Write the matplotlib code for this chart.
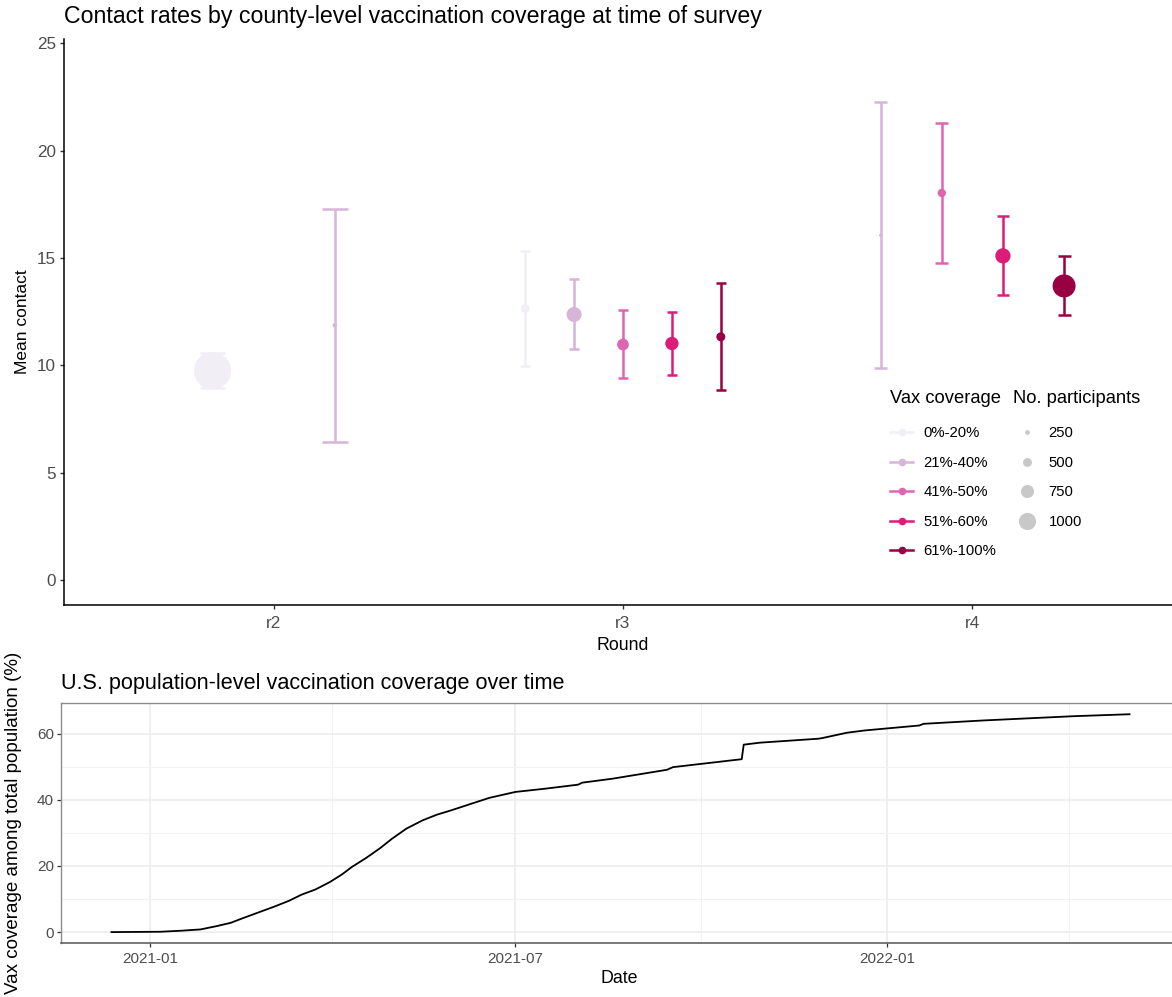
import numpy as np
import pandas as pd
import matplotlib
matplotlib.use('Agg')
import matplotlib.pyplot as plt
from matplotlib.lines import Line2D

plt.rcParams['font.family'] = ['Liberation Sans', 'DejaVu Sans']

# ---- data: contact rates by round and county vax coverage ----
rounds = ['r2', 'r3', 'r4']
groups = ['0%-20%', '21%-40%', '41%-50%', '51%-60%', '61%-100%']
group_colors = ['#f1eef6', '#d7b5d8', '#df65b0', '#dd1c77', '#980043']

rec_round = ['r2', 'r2', 'r3', 'r3', 'r3', 'r3', 'r3', 'r4', 'r4', 'r4', 'r4']
rec_group = ['0%-20%', '21%-40%', '0%-20%', '21%-40%', '41%-50%', '51%-60%', '61%-100%',
             '21%-40%', '41%-50%', '51%-60%', '61%-100%']
mean_contact = [9.75, 11.87, 12.65, 12.37, 10.97, 11.02, 11.33, 16.06, 18.03, 15.10, 13.70]
ci_low = [8.94, 6.44, 9.96, 10.74, 9.39, 9.56, 8.85, 9.90, 14.79, 13.27, 12.34]
ci_high = [10.57, 17.30, 15.33, 14.00, 12.60, 12.50, 13.84, 22.27, 21.29, 16.96, 15.08]
participants = [2200, 230, 490, 870, 670, 765, 505, 160, 465, 885, 1350]

size_breaks = [250, 500, 750, 1000]

# ---- data: US population vaccination coverage ----
vax_dates = ['2020-12-13', '2021-01-06', '2021-01-16', '2021-01-26', '2021-02-03', '2021-02-10',
             '2021-02-16', '2021-02-24', '2021-03-04', '2021-03-11', '2021-03-17', '2021-03-24',
             '2021-03-31', '2021-04-06', '2021-04-11', '2021-04-18', '2021-04-25', '2021-05-01',
             '2021-05-08', '2021-05-16', '2021-05-23', '2021-05-30', '2021-06-08', '2021-06-18',
             '2021-07-01', '2021-07-16', '2021-08-01', '2021-08-03', '2021-08-18', '2021-09-04',
             '2021-09-14', '2021-09-17', '2021-10-21', '2021-10-22', '2021-10-30', '2021-11-28',
             '2021-11-30', '2021-12-12', '2021-12-21', '2022-01-17', '2022-01-19', '2022-02-17',
             '2022-04-03', '2022-05-01']
vax_pct = [0.0, 0.1, 0.4, 0.8, 1.8, 2.8,
           4.2, 6.0, 7.8, 9.5, 11.3, 12.9,
           15.1, 17.4, 19.7, 22.4, 25.4, 28.3,
           31.3, 33.8, 35.5, 36.8, 38.6, 40.6,
           42.4, 43.4, 44.6, 45.2, 46.4, 48.1,
           49.1, 49.9, 52.3, 56.7, 57.3, 58.5,
           58.7, 60.3, 61.0, 62.5, 63.0, 64.0,
           65.3, 65.9]

df = pd.DataFrame({'round': rec_round, 'group': rec_group, 'mean': mean_contact,
                   'lo': ci_low, 'hi': ci_high, 'n': participants})
color_of = dict(zip(groups, group_colors))


def diam_pt(n):
    # marker diameter (points) for a participant count
    return (0.6 + 0.0166 * np.asarray(n, dtype=float)) * 0.72


W, H = 1172, 997
fig = plt.figure(figsize=(W / 100, H / 100), dpi=100)


def fx(px):
    return px / W


def fy(py):
    return 1 - py / H


# ---------------- top panel ----------------
ax1 = fig.add_axes([fx(64), fy(605), fx(1182) - fx(64), fy(39) - fy(605)])

dodge = 0.7
for ri, r in enumerate(rounds):
    sub = df[df['round'] == r]
    k = len(sub)
    step = dodge / k
    for j, (_, row) in enumerate(sub.iterrows()):
        x = ri + 1 + (j - (k - 1) / 2) * step
        c = color_of[row['group']]
        cw = 0.105 * step
        ax1.vlines(x, row['lo'], row['hi'], color=c, lw=1.8, zorder=2)
        ax1.hlines([row['lo'], row['hi']], x - cw, x + cw, color=c, lw=1.8, zorder=2)
        ax1.scatter([x], [row['mean']], s=diam_pt(row['n']) ** 2, color=c,
                    edgecolors='none', zorder=3)

ax1.set_xlim(0.4, 3.6)
ax1.set_ylim(-1.16, 25.2)
ax1.set_xticks([1, 2, 3])
ax1.set_xticklabels(rounds)
ax1.set_yticks([0, 5, 10, 15, 20, 25])
ax1.spines['top'].set_visible(False)
ax1.spines['right'].set_visible(False)
for s in ['left', 'bottom']:
    ax1.spines[s].set_linewidth(1.1)
    ax1.spines[s].set_color('black')
ax1.tick_params(axis='both', labelsize=12.3, labelcolor='#4D4D4D', color='#333333',
                length=3, width=1.0)
ax1.tick_params(axis='x', pad=5)
ax1.tick_params(axis='y', pad=3)
ax1.set_ylabel('Mean contact', fontsize=12.5)
ax1.yaxis.set_label_coords((30 - 64) / 1118, 0.5)
ax1.set_xlabel('Round', fontsize=12.8, va='top')
ax1.xaxis.set_label_coords(0.5, (605 - 637) / 566)

# legends
leg_fs = 10.7
vax_handles = [Line2D([0], [0], color=c, lw=1.8, marker='o', markersize=5.5,
                      markeredgewidth=0) for c in group_colors]
leg1 = ax1.legend(vax_handles, groups, title='Vax coverage', loc='upper left',
                  bbox_to_anchor=(fx(890), fy(390)), bbox_transform=fig.transFigure,
                  frameon=False, fontsize=leg_fs, title_fontsize=13.2, handlelength=1.55,
                  handletextpad=0.72, labelspacing=1.04, borderaxespad=0, borderpad=0)
leg1._legend_box.align = 'left'
leg1._legend_box.sep = 14
ax1.add_artist(leg1)

size_handles = [Line2D([0], [0], color='#C8C8C8', lw=0, marker='o',
                       markersize=diam_pt(b), markeredgewidth=0) for b in size_breaks]
leg2 = ax1.legend(size_handles, [str(b) for b in size_breaks], title='No. participants',
                  loc='upper left', bbox_to_anchor=(fx(1013), fy(390)),
                  bbox_transform=fig.transFigure, frameon=False, fontsize=leg_fs,
                  title_fontsize=13.2, handlelength=1.9, handletextpad=0.5,
                  labelspacing=1.04, borderaxespad=0, borderpad=0)
leg2._legend_box.align = 'left'
leg2._legend_box.sep = 14

fig.text(fx(64), fy(17), 'Contact rates by county-level vaccination coverage at time of survey',
         fontsize=16.7, va='center', ha='left')

# ---------------- bottom panel ----------------
ax2 = fig.add_axes([fx(61), fy(943), fx(1178) - fx(61), fy(703) - fy(943)])
ax2.plot(pd.to_datetime(vax_dates), vax_pct, color='black', lw=1.3, zorder=3)
ax2.set_xlim(pd.Timestamp('2020-11-18'), pd.Timestamp('2022-05-25'))
ax2.set_ylim(-3.3, 69.3)
major_dates = pd.to_datetime(['2021-01-01', '2021-07-01', '2022-01-01'])
minor_dates = pd.to_datetime(['2021-04-01', '2021-10-01', '2022-04-01'])
ax2.set_xticks(major_dates)
ax2.set_xticklabels([d.strftime('%Y-%m') for d in major_dates])
ax2.set_xticks(minor_dates, minor=True)
ax2.set_yticks([0, 20, 40, 60])
ax2.set_yticks([10, 30, 50], minor=True)
ax2.grid(which='major', color='#EBEBEB', lw=1.1, zorder=0)
ax2.grid(which='minor', color='#F2F2F2', lw=0.8, zorder=0)
ax2.set_axisbelow(True)
for s in ['left', 'top', 'right']:
    ax2.spines[s].set_color('#8C8C8C')
    ax2.spines[s].set_linewidth(1.0)
ax2.spines['bottom'].set_color('#555555')
ax2.spines['bottom'].set_linewidth(1.1)
ax2.tick_params(axis='both', which='major', labelsize=11, labelcolor='#4D4D4D',
                color='#333333', length=3, width=0.9)
ax2.tick_params(axis='y', which='major', pad=2)
ax2.tick_params(axis='both', which='minor', length=0)
ax2.set_xlabel('Date', fontsize=12.8, va='top')
ax2.xaxis.set_label_coords(0.5, (943 - 970) / 240)
ax2.set_ylabel('Vax coverage among total population (%)', fontsize=13.5)
ax2.yaxis.set_label_coords((22 - 61) / 1117, 0.5)

fig.text(fx(61), fy(683), 'U.S. population-level vaccination coverage over time',
         fontsize=15.6, va='center', ha='left')

fig.savefig('out.png', dpi=100)
